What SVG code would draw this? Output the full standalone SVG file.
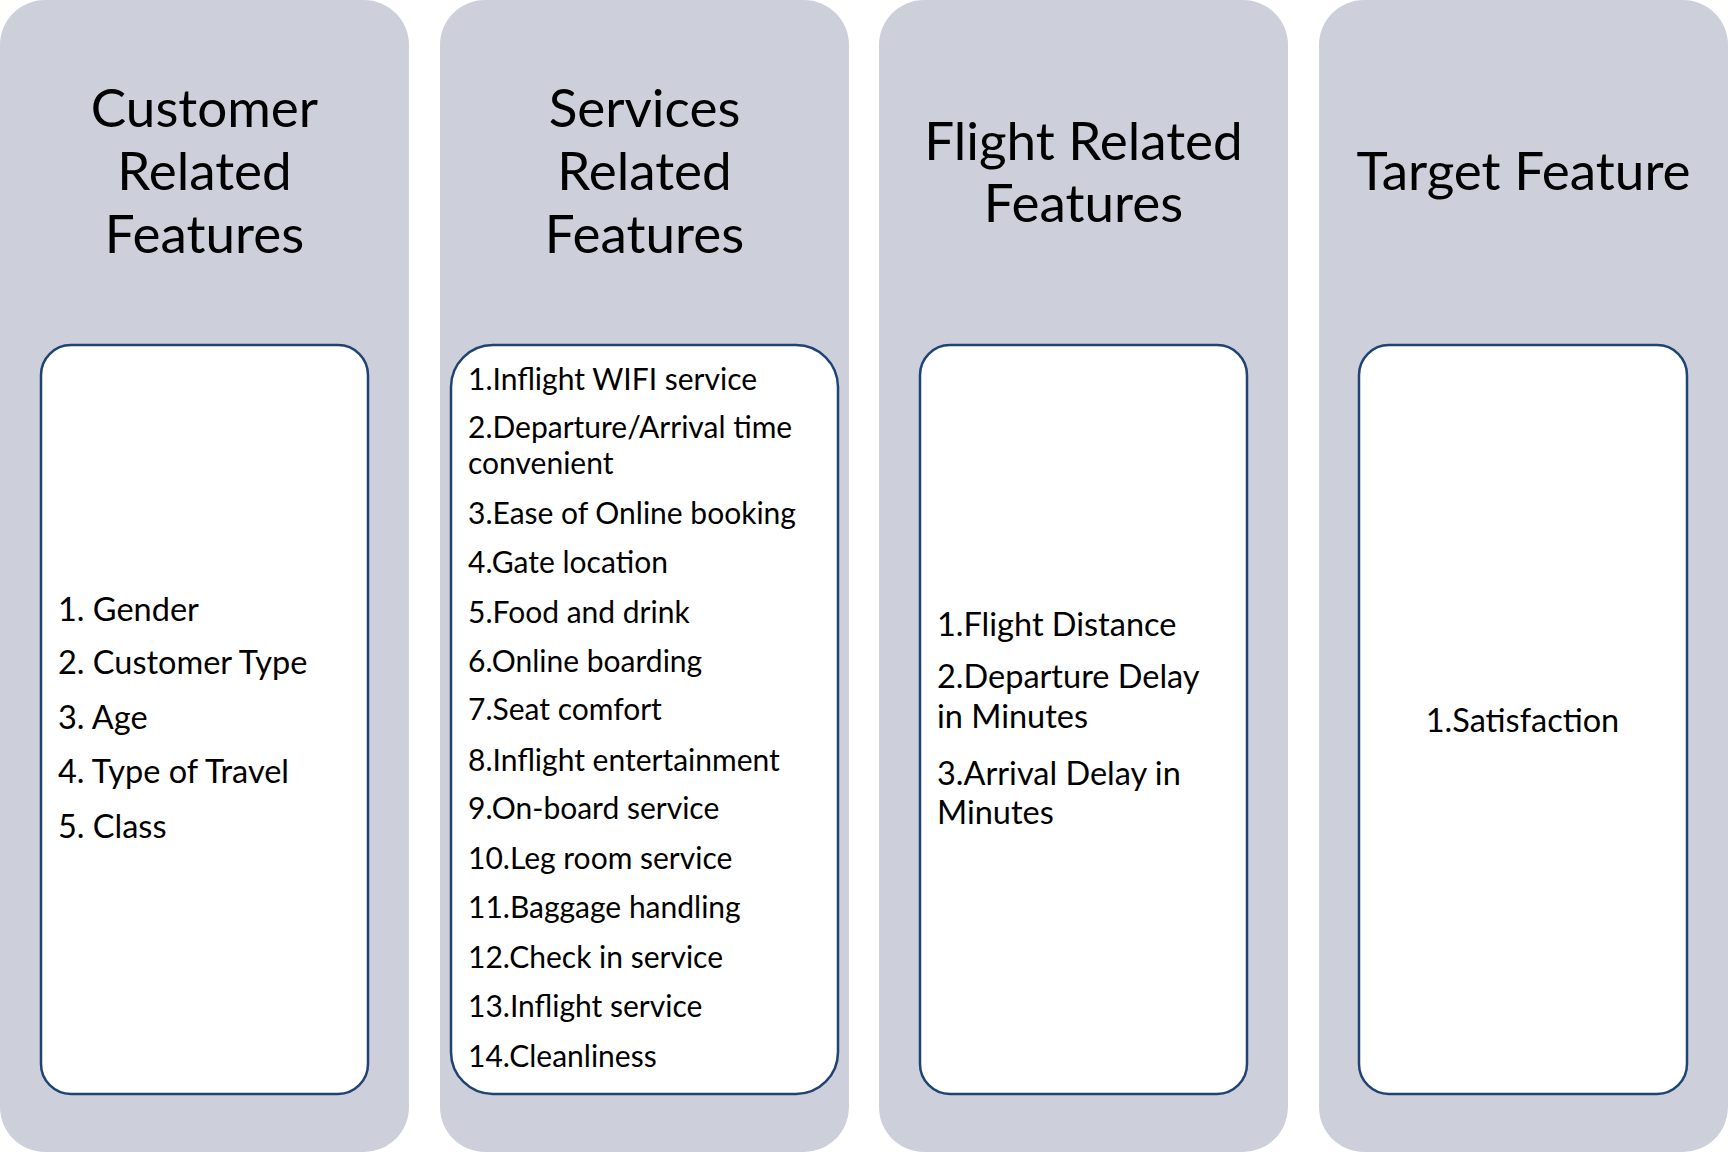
<svg xmlns="http://www.w3.org/2000/svg" width="1728" height="1152" viewBox="0 0 1728 1152">
<style>
.col{fill:#cdd0da;}
.box{fill:#ffffff;stroke:#1f4374;stroke-width:2.5;}
.h{font-family:Lato,"Open Sans",sans-serif;font-size:53px;fill:#000;text-anchor:middle;}
.t{font-family:Lato,"Open Sans",sans-serif;font-size:32.5px;fill:#000;}
.s{font-size:30px;}
.tc{text-anchor:middle;}
</style>
<rect width="1728" height="1152" fill="#ffffff"/>
<g id="customer">
<rect class="col" x="0" y="0" width="409" height="1152" rx="45"/>
<text class="h" x="204.5" y="127">Customer</text>
<text class="h" x="204.5" y="190">Related</text>
<text class="h" x="204.5" y="253">Features</text>
<rect class="box" x="41" y="345" width="327" height="749" rx="30"/>
<text class="t" x="58" y="621">1. Gender</text>
<text class="t" x="58" y="674">2. Customer Type</text>
<text class="t" x="58" y="729">3. Age</text>
<text class="t" x="58" y="783">4. Type of Travel</text>
<text class="t" x="58" y="838">5. Class</text>
</g>
<g id="services">
<rect class="col" x="440" y="0" width="409" height="1152" rx="45"/>
<text class="h" x="644.5" y="127">Services</text>
<text class="h" x="644.5" y="190">Related</text>
<text class="h" x="644.5" y="253">Features</text>
<rect class="box" x="451" y="345" width="387" height="749" rx="42"/>
<text class="t s" x="468" y="390">1.Inflight WIFI service</text>
<text class="t s" x="468" y="438">2.Departure/Arrival time</text>
<text class="t s" x="468" y="474">convenient</text>
<text class="t s" x="468" y="524">3.Ease of Online booking</text>
<text class="t s" x="468" y="573">4.Gate location</text>
<text class="t s" x="468" y="623">5.Food and drink</text>
<text class="t s" x="468" y="672">6.Online boarding</text>
<text class="t s" x="468" y="720">7.Seat comfort</text>
<text class="t s" x="468" y="771">8.Inflight entertainment</text>
<text class="t s" x="468" y="819">9.On-board service</text>
<text class="t s" x="468" y="869">10.Leg room service</text>
<text class="t s" x="468" y="918">11.Baggage handling</text>
<text class="t s" x="468" y="968">12.Check in service</text>
<text class="t s" x="468" y="1017">13.Inflight service</text>
<text class="t s" x="468" y="1067">14.Cleanliness</text>
</g>
<g id="flight">
<rect class="col" x="879" y="0" width="409" height="1152" rx="45"/>
<text class="h" x="1083.5" y="160">Flight Related</text>
<text class="h" x="1083.5" y="222">Features</text>
<rect class="box" x="920" y="345" width="327" height="749" rx="30"/>
<text class="t" x="937" y="636">1.Flight Distance</text>
<text class="t" x="937" y="688">2.Departure Delay</text>
<text class="t" x="937" y="728">in Minutes</text>
<text class="t" x="937" y="785">3.Arrival Delay in</text>
<text class="t" x="937" y="824">Minutes</text>
</g>
<g id="target">
<rect class="col" x="1319" y="0" width="409" height="1152" rx="45"/>
<text class="h" x="1523.5" y="190">Target Feature</text>
<rect class="box" x="1359" y="345" width="328" height="749" rx="30"/>
<text class="t tc" x="1522.5" y="732">1.Satisfaction</text>
</g>
<g id="connectors"/>
</svg>
